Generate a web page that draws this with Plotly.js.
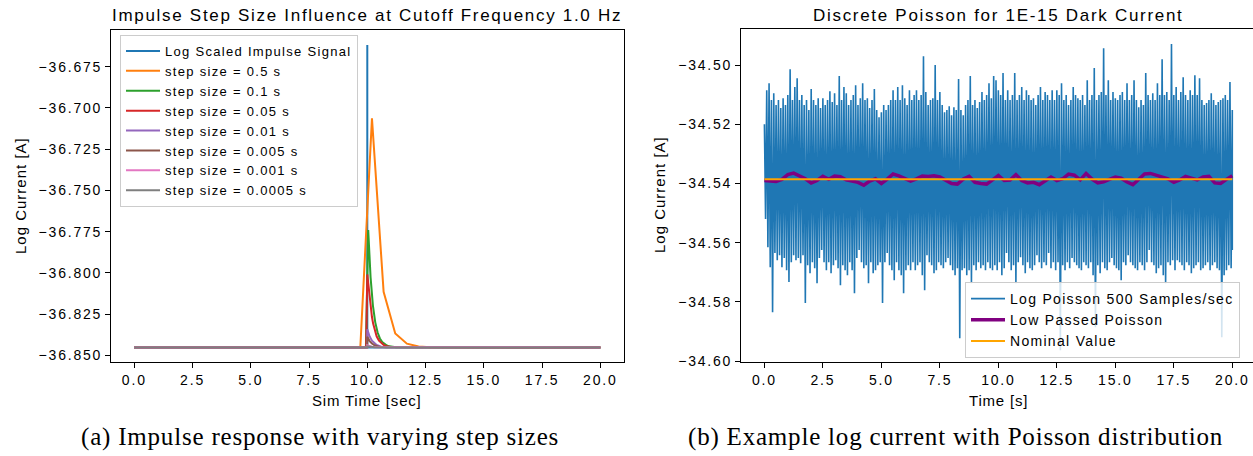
<!DOCTYPE html>
<html>
<head>
<meta charset="utf-8">
<script src="https://cdn.plot.ly/plotly-3.0.1.min.js"></script>
<style>
  html, body { margin: 0; padding: 0; background: #fff; }
  #chart { width: 1253px; height: 456px; }
  g.xtick > text, g.ytick > text, g.x2tick > text, g.y2tick > text { letter-spacing: 1.8px; }
</style>
</head>
<body>
<div id="chart"></div>
<script>
// ---------------- Panel (a): impulse response data ----------------
const impulseX = [0, 9.9995, 10, 10.0005, 20];
const impulseY = [-36.8453, -36.8453, -36.6618, -36.8453, -36.8453];

const step05X = [0, 9.7, 10.2, 10.7, 11.2, 11.7, 12.2, 12.7, 20];
const step05Y = [-36.8453, -36.8453, -36.7063, -36.8115, -36.8368, -36.8430, -36.8447, -36.8451, -36.8453];

const step01X = [0, 9.94, 10.04, 10.14, 10.24, 10.34, 10.44, 10.54, 10.64, 10.74, 10.84, 10.94, 11.04, 11.24, 20];
const step01Y = [-36.8453, -36.8453, -36.7741, -36.8026, -36.8197, -36.8299, -36.8361, -36.8398, -36.8420, -36.8433, -36.8441, -36.8446, -36.8449, -36.8451, -36.8453];

const step005X = [0, 9.95, 10.0, 10.05, 10.1, 10.15, 10.2, 10.25, 10.3, 10.35, 10.4, 10.5, 10.6, 10.7, 10.8, 11.0, 20];
const step005Y = [-36.8453, -36.8453, -36.8010, -36.8083, -36.8158, -36.8218, -36.8268, -36.8308, -36.8340, -36.8365, -36.8385, -36.8411, -36.8428, -36.8438, -36.8444, -36.8450, -36.8453];

const step001X = [0, 9.99, 10.0, 10.02, 10.05, 10.1, 10.2, 10.3, 10.4, 10.6, 10.8, 20];
const step001Y = [-36.8453, -36.8453, -36.8342, -36.8352, -36.8366, -36.8386, -36.8412, -36.8428, -36.8438, -36.8448, -36.8451, -36.8453];

const step0005X = [0, 9.995, 10.0, 10.1, 10.2, 10.3, 10.5, 10.8, 20];
const step0005Y = [-36.8453, -36.8453, -36.8388, -36.8414, -36.8429, -36.8439, -36.8448, -36.8452, -36.8453];

const step0001X = [0, 9.999, 10.0, 10.1, 10.2, 10.4, 20];
const step0001Y = [-36.8453, -36.8453, -36.8440, -36.8445, -36.8448, -36.8451, -36.8453];

const step00005X = [0, 9.9995, 10.0, 10.1, 10.3, 20];
const step00005Y = [-36.8453, -36.8453, -36.8446, -36.8449, -36.8452, -36.8453];

const impulseLabels = ['Log Scaled Impulse Signal', 'step size = 0.5 s', 'step size = 0.1 s', 'step size = 0.05 s',
  'step size = 0.01 s', 'step size = 0.005 s', 'step size = 0.001 s', 'step size = 0.0005 s'];

// ---------------- Panel (b): Poisson data ----------------
const poissonSampleStep = 0.1; // seconds between envelope readings
// upper extremes of the raw Poisson signal in each 0.1 s slot
const poissonHigh = [
-34.5200,-34.5085,-34.5061,-34.5118,-34.5095,-34.5135,-34.5118,-34.5145,-34.5112,-34.5135,
-34.5101,-34.5014,-34.5118,-34.5074,-34.5044,-34.5118,-34.5101,-34.5135,-34.5118,-34.5152,
-34.5081,-34.5118,-34.5135,-34.5112,-34.5145,-34.5112,-34.5135,-34.5118,-34.5088,-34.5125,
-34.5095,-34.5135,-34.5037,-34.5118,-34.5074,-34.5095,-34.5135,-34.5118,-34.5101,-34.5068,
-34.5135,-34.5112,-34.5061,-34.5118,-34.5112,-34.5145,-34.5118,-34.5081,-34.5152,-34.5176,
-34.5159,-34.5135,-34.5152,-34.5135,-34.5118,-34.5085,-34.5118,-34.5074,-34.5118,-34.5068,
-34.5112,-34.5135,-34.5085,-34.5118,-34.5101,-34.5085,-34.5118,-34.5101,-34.4970,-34.5091,
-34.5135,-34.5118,-34.5112,-34.5000,-34.5118,-34.5091,-34.5135,-34.5159,-34.5152,-34.5139,
-34.5169,-34.5142,-34.5152,-34.5047,-34.5152,-34.5169,-34.5135,-34.5118,-34.5037,-34.5135,
-34.5118,-34.5145,-34.5125,-34.5091,-34.5118,-34.5101,-34.5061,-34.5112,-34.5037,-34.5051,
-34.5085,-34.5101,-34.5027,-34.5118,-34.5085,-34.5118,-34.5101,-34.5027,-34.5118,-34.5101,
-34.5074,-34.5118,-34.5085,-34.5101,-34.5118,-34.5112,-34.5135,-34.5101,-34.5074,-34.5118,
-34.5091,-34.5101,-34.5118,-34.5085,-34.5118,-34.5085,-34.5101,-34.5061,-34.5118,-34.5101,
-34.5135,-34.5118,-34.5074,-34.5101,-34.5112,-34.5118,-34.5101,-34.5135,-34.5051,-34.5118,
-34.5101,-34.5010,-34.5118,-34.5101,-34.5091,-34.4943,-34.5101,-34.5051,-34.5118,-34.5091,
-34.5112,-34.5118,-34.5101,-34.5091,-34.5118,-34.5061,-34.5118,-34.5101,-34.5051,-34.5118,
-34.5142,-34.5118,-34.5135,-34.5027,-34.5101,-34.5118,-34.5095,-34.5118,-34.5061,-34.5101,
-34.4980,-34.5101,-34.5091,-34.5118,-34.4929,-34.5101,-34.5074,-34.5118,-34.5091,-34.5041,
-34.5101,-34.5118,-34.5085,-34.5101,-34.5034,-34.5101,-34.5044,-34.5118,-34.5135,-34.5128,
-34.5118,-34.5095,-34.5118,-34.5135,-34.5125,-34.5118,-34.5112,-34.5101,-34.5118,-34.5057,
-34.5152];
// lower extremes of the raw Poisson signal in each 0.1 s slot
const poissonLow = [
-34.5520,-34.5615,-34.5683,-34.5835,-34.5635,-34.5659,-34.5642,-34.5683,-34.5652,-34.5693,
-34.5733,-34.5666,-34.5642,-34.5659,-34.5652,-34.5669,-34.5642,-34.5804,-34.5676,-34.5703,
-34.5666,-34.5686,-34.5737,-34.5652,-34.5625,-34.5666,-34.5693,-34.5666,-34.5703,-34.5676,
-34.5659,-34.5686,-34.5744,-34.5676,-34.5693,-34.5710,-34.5666,-34.5693,-34.5771,-34.5652,
-34.5625,-34.5666,-34.5686,-34.5676,-34.5737,-34.5666,-34.5703,-34.5693,-34.5676,-34.5666,
-34.5804,-34.5666,-34.5635,-34.5676,-34.5693,-34.5727,-34.5666,-34.5693,-34.5710,-34.5771,
-34.5693,-34.5676,-34.5693,-34.5666,-34.5693,-34.5676,-34.5666,-34.5710,-34.5761,-34.5642,
-34.5666,-34.5676,-34.5703,-34.5693,-34.5666,-34.5676,-34.5686,-34.5666,-34.5652,-34.5676,
-34.5693,-34.5710,-34.5686,-34.5923,-34.5693,-34.5686,-34.5710,-34.5693,-34.5737,-34.5676,
-34.5693,-34.5666,-34.5686,-34.5676,-34.5693,-34.5666,-34.5686,-34.5693,-34.5676,-34.5693,
-34.5666,-34.5710,-34.5686,-34.5635,-34.5666,-34.5693,-34.5676,-34.5737,-34.5666,-34.5649,
-34.5676,-34.5703,-34.5666,-34.5686,-34.5693,-34.5676,-34.5642,-34.5666,-34.5686,-34.5666,
-34.5676,-34.5635,-34.5686,-34.5666,-34.5693,-34.5666,-34.5963,-34.5676,-34.5693,-34.5666,
-34.5686,-34.5652,-34.5666,-34.5676,-34.5686,-34.5693,-34.5666,-34.5676,-34.5686,-34.5666,
-34.5710,-34.5886,-34.5676,-34.5703,-34.5666,-34.5686,-34.5693,-34.5666,-34.5652,-34.5676,
-34.5686,-34.5693,-34.5727,-34.5666,-34.5676,-34.5642,-34.5666,-34.5676,-34.5686,-34.5693,
-34.5666,-34.5676,-34.5693,-34.5666,-34.5625,-34.5666,-34.5676,-34.5703,-34.5686,-34.5676,
-34.5710,-34.5737,-34.5666,-34.5676,-34.5659,-34.5693,-34.5659,-34.5666,-34.5676,-34.5693,
-34.5666,-34.5676,-34.5703,-34.5686,-34.5676,-34.5666,-34.5693,-34.5686,-34.5676,-34.5666,
-34.5693,-34.5676,-34.5666,-34.5686,-34.5693,-34.5919,-34.5710,-34.5693,-34.5676,-34.5686,
-34.5625];

const lowPassStep = 0.25; // seconds between readings
const lowPassed = [
-34.5390,-34.5392,-34.5393,-34.5386,-34.5370,-34.5365,-34.5375,-34.5384,-34.5398,-34.5390,
-34.5376,-34.5386,-34.5375,-34.5377,-34.5388,-34.5392,-34.5396,-34.5406,-34.5392,-34.5384,
-34.5400,-34.5385,-34.5368,-34.5374,-34.5384,-34.5392,-34.5384,-34.5375,-34.5376,-34.5374,
-34.5378,-34.5390,-34.5400,-34.5402,-34.5385,-34.5376,-34.5396,-34.5400,-34.5402,-34.5388,
-34.5373,-34.5390,-34.5388,-34.5370,-34.5390,-34.5398,-34.5396,-34.5404,-34.5392,-34.5378,
-34.5390,-34.5384,-34.5368,-34.5372,-34.5388,-34.5366,-34.5385,-34.5398,-34.5394,-34.5386,
-34.5378,-34.5382,-34.5395,-34.5404,-34.5385,-34.5368,-34.5366,-34.5372,-34.5378,-34.5384,
-34.5396,-34.5388,-34.5376,-34.5382,-34.5388,-34.5378,-34.5376,-34.5398,-34.5400,-34.5386,
-34.5374];

const nominalX = [0, 20];
const nominalY = [-34.5386, -34.5386];

const poissonLabels = ['Log Poisson 500 Samples/sec', 'Low Passed Poisson', 'Nominal Value'];
const timeTicks = [0, 2.5, 5, 7.5, 10, 12.5, 15, 17.5, 20];

// ---------------- build traces ----------------
const tab10 = ['#1f77b4', '#ff7f0e', '#2ca02c', '#d62728', '#9467bd', '#8c564b', '#e377c2', '#7f7f7f'];
const spaced = (t, ls) => '<span style="letter-spacing:' + ls + 'px">' + t + '</span>';
const panelA = [
  [impulseX, impulseY], [step05X, step05Y], [step01X, step01Y], [step005X, step005Y],
  [step001X, step001Y], [step0005X, step0005Y], [step0001X, step0001Y], [step00005X, step00005Y]
];
const FONT = 'Liberation Sans, Arial, sans-serif';
const SERIF = 'Liberation Serif, DejaVu Serif, serif';
const traces = panelA.map((s, i) => ({
  x: s[0], y: s[1], type: 'scatter', mode: 'lines', name: spaced(impulseLabels[i], 1.3),
  line: {color: tab10[i], width: 2}, xaxis: 'x', yaxis: 'y', legend: 'legend'
}));

const poissonTime = poissonHigh.map((_, i) => i * poissonSampleStep);
const zx = [], zy = [];
poissonHigh.forEach((h, i) => {
  const t = poissonTime[i];
  zx.push(t); zy.push(h);
  zx.push(i < poissonHigh.length - 1 ? t + poissonSampleStep / 2 : t);
  zy.push(poissonLow[i]);
});
traces.push({
  x: zx, y: zy, type: 'scatter', mode: 'lines', name: spaced(poissonLabels[0], 1.3),
  line: {color: '#1f77b4', width: 1.6}, xaxis: 'x2', yaxis: 'y2', legend: 'legend2'
});
traces.push({
  x: lowPassed.map((_, i) => i * lowPassStep), y: lowPassed, type: 'scatter', mode: 'lines',
  name: spaced(poissonLabels[1], 1.3), line: {color: '#800080', width: 3.5}, xaxis: 'x2', yaxis: 'y2', legend: 'legend2'
});
traces.push({
  x: nominalX, y: nominalY, type: 'scatter', mode: 'lines', name: spaced(poissonLabels[2], 1.3),
  line: {color: '#ffa500', width: 2}, xaxis: 'x2', yaxis: 'y2', legend: 'legend2'
});

const W = 1253, H = 456;
const px = v => v / W, py = v => 1 - v / H;
const axisCommon = {
  showgrid: false, zeroline: false, showline: true, linecolor: '#000', linewidth: 1,
  ticks: 'outside', ticklen: 5, tickwidth: 1, tickcolor: '#000',
  tickfont: {family: FONT, size: 14, color: '#000'}
};
const ann = (text, x, y, size, ls, opts) => Object.assign({
  text: spaced(text, ls), x: px(x), y: py(y), xref: 'paper', yref: 'paper', showarrow: false,
  xanchor: 'center', yanchor: 'middle', font: {family: FONT, size, color: '#000'}
}, opts || {});

const layout = {
  width: W, height: H, margin: {l: 0, r: 0, t: 0, b: 0},
  paper_bgcolor: '#fff', plot_bgcolor: '#fff', showlegend: true,
  xaxis: Object.assign({}, axisCommon, {domain: [px(111), px(623.6)], range: [-1, 21], tickvals: timeTicks, tickformat: '.1f', mirror: true, anchor: 'y'}),
  yaxis: Object.assign({}, axisCommon, {domain: [1 - 362/H, 1 - 30/H], range: [-36.8541, -36.6527], dtick: 0.025, tick0: -36.85, tickformat: '.3f', mirror: true, anchor: 'x'}),
  xaxis2: Object.assign({}, axisCommon, {domain: [px(741), 1], range: [-1, (1253 - 764.3) / 23.4], tickvals: timeTicks, tickformat: '.1f', mirror: true, anchor: 'y2'}),
  yaxis2: Object.assign({}, axisCommon, {domain: [1 - 362/H, 1 - 29/H], range: [-34.6003, -34.4878], dtick: 0.02, tick0: -34.6, tickformat: '.2f', mirror: false, anchor: 'x2'}),
  legend: {x: px(120), y: py(35), xanchor: 'left', yanchor: 'top', bgcolor: 'rgba(255,255,255,0.85)', itemwidth: 34,
    bordercolor: '#cccccc', borderwidth: 1, font: {family: FONT, size: 13, color: '#000'}, tracegroupgap: 0},
  legend2: {x: px(965), y: py(282), xanchor: 'left', yanchor: 'top', bgcolor: 'rgba(255,255,255,0.8)', itemwidth: 34,
    bordercolor: '#cccccc', borderwidth: 1, font: {family: FONT, size: 14, color: '#000'}},
  annotations: [
    ann('Impulse Step Size Influence at Cutoff Frequency 1.0 Hz', 367, 15, 17, 1.7),
    ann('Discrete Poisson for 1E-15 Dark Current', 998, 15, 17, 1.7),
    ann('Sim Time [sec]', 367, 400, 15, 0.8),
    ann('Time [s]', 998, 400, 15, 0.8),
    ann('Log Current [A]', 20, 196, 15, 1, {textangle: -90}),
    ann('Log Current [A]', 660, 195, 15, 1, {textangle: -90}),
    ann('(a) Impulse response with varying step sizes', 320, 437, 25, 0.8, {font: {family: SERIF, size: 25, color: '#000'}}),
    ann('(b) Example log current with Poisson distribution', 955, 437, 25, 0.8, {font: {family: SERIF, size: 25, color: '#000'}})
  ]
};

Plotly.newPlot('chart', traces, layout, {displayModeBar: false, staticPlot: true});
</script>
</body>
</html>
